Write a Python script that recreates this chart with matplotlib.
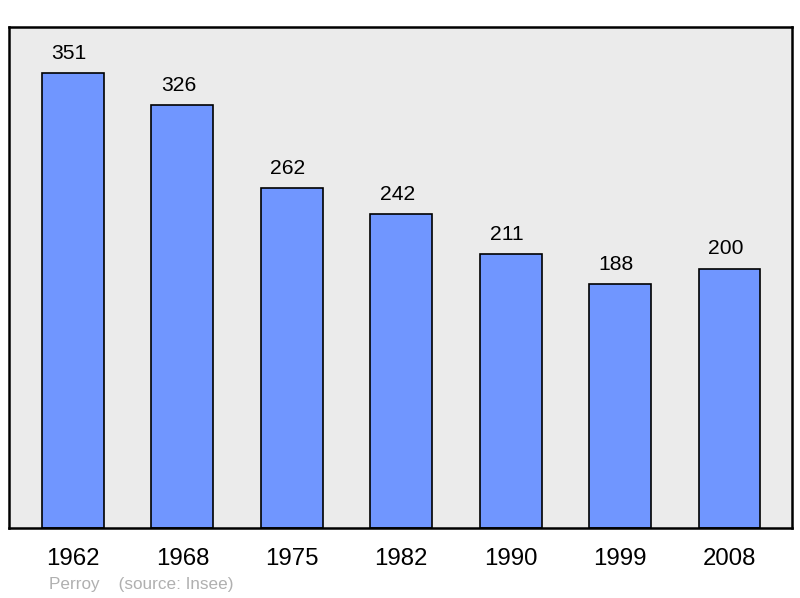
import matplotlib.pyplot as plt

years = ["1962", "1968", "1975", "1982", "1990", "1999", "2008"]
population = [351, 326, 262, 242, 211, 188, 200]

plt.rcParams['font.family'] = ['Liberation Sans', 'DejaVu Sans']

fig = plt.figure(figsize=(8, 5.98), dpi=100)
ax = fig.add_axes([9 / 800, 1 - 528 / 598, 783 / 800, 501 / 598])
ax.set_facecolor("#ebebeb")

x = range(len(years))
ax.bar(x, population, width=0.566, color="#7096ff", edgecolor="black", linewidth=1.2, zorder=2)
for i, v in enumerate(population):
    ax.text(i - 0.035, v + 8, str(v), ha="center", va="bottom", fontsize=15.2, color="black")

ax.set_xlim(-0.584, 6.571)
ax.set_ylim(0, 386.5)
ax.set_yticks([])
ax.set_xticks(list(x))
ax.set_xticklabels(years, fontsize=17.3)
ax.tick_params(axis="x", length=0, pad=14.5)
for s in ax.spines.values():
    s.set_linewidth(1.8)

fig.text(49 / 800, 1 - 584 / 598, "Perroy    (source: Insee)", fontsize=12.3, color="#b0b0b0", va="center")

fig.savefig("out.png", dpi=100)
